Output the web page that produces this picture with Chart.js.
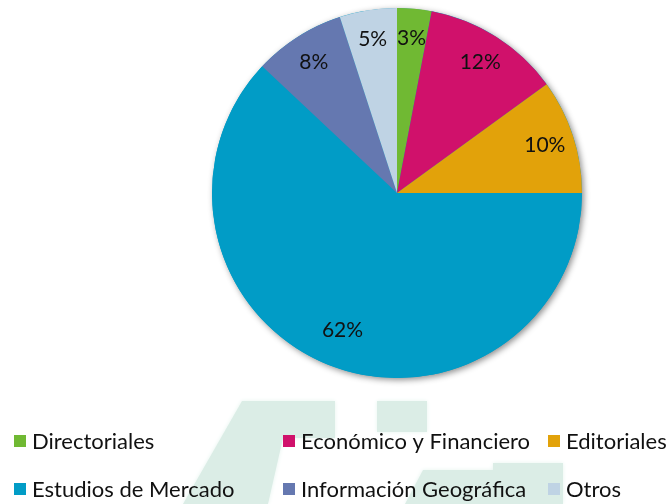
<!DOCTYPE html>
<html>
<head>
<meta charset="utf-8">
<script src="https://cdn.jsdelivr.net/npm/chart.js@4"></script>
<style>
  html, body { margin: 0; padding: 0; background: #fff; }
  #wrap { width: 667px; height: 504px; position: relative; }
</style>
</head>
<body>
<div id="wrap"><canvas id="pieChart" width="667" height="504"></canvas></div>
<script>
// Sector names and shares (%)
const categories = ['Directoriales', 'Económico y Financiero', 'Editoriales', 'Estudios de Mercado', 'Información Geográfica', 'Otros'];
const shares = [3, 12, 10, 62, 8, 5];
const sliceColors = ['#70b933', '#d0116b', '#e2a20a', '#019cc6', '#6578b0', '#bfd3e4'];

const FONT = 'Lato, "Liberation Sans", sans-serif';

// faint watermark behind everything
const watermark = {
    id: 'watermark',
    beforeDraw(chart) {
        const ctx = chart.ctx;
        ctx.save();
        ctx.fillStyle = '#dbede6';
        ctx.shadowColor = '#e6f4ef';
        ctx.shadowBlur = 4;
        ctx.beginPath();
        ctx.moveTo(242, 401); ctx.lineTo(335, 401); ctx.lineTo(335, 438);
        ctx.lineTo(283, 438); ctx.lineTo(268, 504); ctx.lineTo(183, 504);
        ctx.closePath();
        ctx.fill();
        ctx.fillRect(377, 401, 50, 31);
        ctx.beginPath();
        ctx.moveTo(423, 470); ctx.lineTo(493, 470); ctx.lineTo(493, 463);
        ctx.lineTo(563, 463); ctx.lineTo(563, 504); ctx.lineTo(405, 504);
        ctx.closePath();
        ctx.fill();
        ctx.restore();
    }
};

// soft shadow under the whole pie
const pieShadow = {
    id: 'pieShadow',
    beforeDatasetsDraw(chart) {
        const arc = chart.getDatasetMeta(0).data[0];
        if (!arc) return;
        const ctx = chart.ctx;
        ctx.save();
        ctx.shadowColor = 'rgba(0,0,0,0.45)';
        ctx.shadowBlur = 6;
        ctx.shadowOffsetX = 2;
        ctx.shadowOffsetY = 2;
        ctx.fillStyle = '#019cc6';
        ctx.beginPath();
        ctx.arc(arc.x, arc.y, arc.outerRadius, 0, Math.PI * 2);
        ctx.fill();
        ctx.restore();
    }
};

// percent labels inside each slice
const sliceLabels = {
    id: 'sliceLabels',
    afterDatasetsDraw(chart) {
        const ctx = chart.ctx;
        const meta = chart.getDatasetMeta(0);
        ctx.save();
        ctx.font = '21px ' + FONT;
        ctx.fillStyle = '#111';
        ctx.textAlign = 'center';
        ctx.textBaseline = 'middle';
        meta.data.forEach((arc, i) => {
            const mid = (arc.startAngle + arc.endAngle) / 2;
            const r = arc.outerRadius * (shares[i] > 50 ? 0.8 : 0.84);
            ctx.fillText(shares[i] + '%', arc.x + Math.cos(mid) * r, arc.y + Math.sin(mid) * r);
        });
        ctx.restore();
    }
};

// legend in a 3 x 2 grid under the pie
const gridLegend = {
    id: 'gridLegend',
    afterDraw(chart) {
        const ctx = chart.ctx;
        const colX = [14, 283, 548];
        const rowY = [441, 489];
        ctx.save();
        ctx.font = '22px ' + FONT;
        ctx.textBaseline = 'middle';
        categories.forEach((name, i) => {
            const x = colX[i % 3];
            const y = rowY[Math.floor(i / 3)];
            ctx.fillStyle = sliceColors[i];
            ctx.fillRect(x, y - 6, 12, 12);
            ctx.fillStyle = '#111';
            ctx.fillText(name, x + 18, y + 1);
        });
        ctx.restore();
    }
};

new Chart(document.getElementById('pieChart'), {
    type: 'pie',
    data: {
        labels: categories,
        datasets: [{
            data: shares,
            backgroundColor: sliceColors,
            borderWidth: 0
        }]
    },
    options: {
        responsive: false,
        animation: false,
        layout: { padding: { top: 8, bottom: 126, left: 212, right: 85 } },
        plugins: {
            legend: { display: false },
            tooltip: { enabled: false }
        }
    },
    plugins: [watermark, pieShadow, sliceLabels, gridLegend]
});
</script>
</body>
</html>
